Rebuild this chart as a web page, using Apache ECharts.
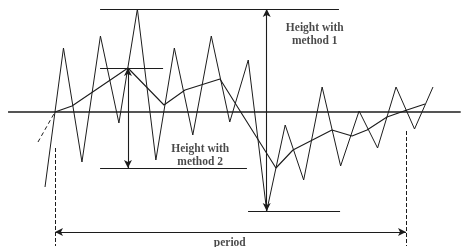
<!DOCTYPE html>
<html>
<head>
<meta charset="utf-8">
<script src="https://cdn.jsdelivr.net/npm/echarts@6/dist/echarts.min.js"></script>
<style>
  html, body { margin: 0; padding: 0; background: #fff; }
  #chart { width: 462px; height: 247px; }
</style>
</head>
<body>
<div id="chart"></div>
<script>
// raw signal, one value per step
const signal = [-7.5, 6.4, -5.0, 7.6, -1.1, 10.3, -4.8, 6.4, -2.3, 7.6, -1.0,
  5.2, -9.9, -1.3, -6.8, 2.5, -5.4, 0.1, -3.6, 2.5, -1.7, 2.5];

// smoothed curve [step, value]
const smoothLead = [[-0.38, -3.0], [0.54, 0]];
const smooth = [[0.54, 0], [1.46, 0.6], [4.49, 4.4], [6.44, 0.7], [7.58, 2.2],
  [9.47, 3.3], [12.5, -5.6], [13.42, -3.8], [15.53, -1.8], [16.62, -2.4],
  [17.43, -1.8], [18.51, -0.5], [19.59, 0.2], [20.57, 0.8]];

// period between zero crossings of the smoothed curve
const periodStart = 0.54;
const periodEnd = 19.54;
const periodLevel = -12.0;

const labels = ['Height with\nmethod 1', 'Height with\nmethod 2', 'period'];
const labelPos = [[14.6, 7.7], [8.4, -4.4], [10.0, -13.1]];

const ink = '#1c1c1c';

const sigMax = Math.max(...signal);
const sigMin = Math.min(...signal);
const sigMinIdx = signal.indexOf(sigMin);
const smVals = smooth.map(p => p[1]);
const smMax = Math.max(...smVals);
const smMin = Math.min(...smVals);
const smMaxX = smooth[smVals.indexOf(smMax)][0];

function seg(a, b, arrows) {
  return [{ coord: a, symbol: arrows ? 'arrow' : 'none' },
          { coord: b, symbol: arrows ? 'arrow' : 'none' }];
}

const baseline = [[-2.0, 0], [22.5, 0]];

const refLines = [
  seg([2.98, sigMax], [15.91, sigMax]),               // method 1 top
  seg([10.99, sigMin], [15.97, sigMin]),              // method 1 bottom
  seg([sigMinIdx, sigMax], [sigMinIdx, sigMin], true),
  seg([2.98, smMax], [6.39, smMax]),                  // method 2 top
  seg([2.98, smMin], [10.93, smMin]),                 // method 2 bottom
  seg([smMaxX, smMax], [smMaxX, smMin], true),
  seg([periodStart, periodLevel], [periodEnd, periodLevel], true)
];

const dashLines = [
  seg([periodStart, -3.6], [periodStart, -13.4]),
  seg([periodEnd, -1.9], [periodEnd, -13.4])
];

const chart = echarts.init(document.getElementById('chart'));

chart.setOption({
  animation: false,
  grid: { left: 0, right: 0, top: 0, bottom: 0 },
  xAxis: { type: 'value', min: -2.436, max: 22.57, show: false },
  yAxis: { type: 'value', min: -13.5, max: 11.2, show: false },
  series: [
    {
      type: 'line',
      data: baseline,
      symbol: 'none',
      lineStyle: { color: ink, width: 1.3 }
    },
    {
      type: 'line',
      data: signal.map((v, i) => [i, v]),
      symbol: 'none',
      lineStyle: { color: ink, width: 1 },
      markLine: {
        silent: true,
        symbolSize: [6, 8],
        label: { show: false },
        lineStyle: { color: ink, width: 1.1, type: 'solid' },
        data: refLines
      }
    },
    {
      type: 'line',
      data: smooth,
      symbol: 'none',
      lineStyle: { color: ink, width: 1.1 },
      markLine: {
        silent: true,
        symbol: 'none',
        label: { show: false },
        lineStyle: { color: ink, width: 1, type: [4, 2] },
        data: dashLines
      }
    },
    {
      type: 'line',
      data: smoothLead,
      symbol: 'none',
      lineStyle: { color: ink, width: 1, type: [4, 3] }
    },
    {
      type: 'scatter',
      symbolSize: 1,
      itemStyle: { color: 'rgba(0,0,0,0)' },
      data: labelPos.map((p, i) => ({ value: p, name: labels[i] })),
      label: {
        show: true,
        position: 'inside',
        formatter: p => p.name,
        color: ink,
        fontFamily: 'Liberation Serif',
        fontWeight: 'bold',
        fontSize: 11.5,
        lineHeight: 13,
        align: 'center'
      }
    }
  ]
});
</script>
</body>
</html>
